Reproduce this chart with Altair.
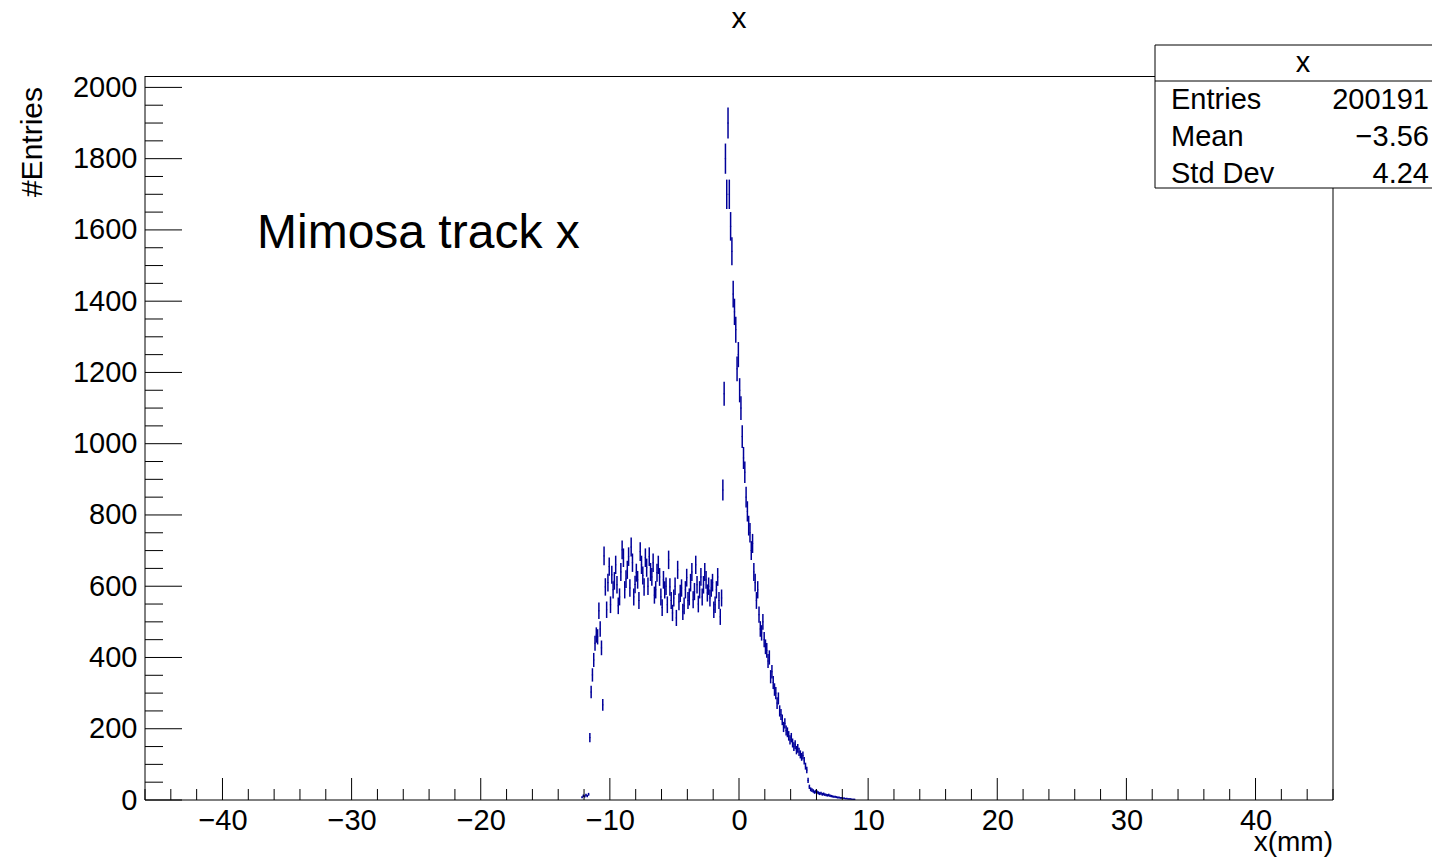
import altair as alt
import pandas as pd

# ---------------- data ----------------
bin_start = -12.2   # low edge of first filled bin (mm)
bin_width = 0.1     # mm

counts = [
    8, 12, 10, 14, 11, 16, 175, 303, 351, 393,
    440, 463, 458, 531, 480, 427, 267, 685, 598, 534,
    610, 655, 548, 632, 590, 615, 660, 604, 545, 570,
    640, 702, 680, 590, 620, 646, 683, 595, 710, 666,
    570, 605, 638, 618, 560, 697, 660, 630, 598, 680,
    652, 600, 683, 640, 626, 666, 575, 590, 638, 660,
    626, 570, 540, 618, 590, 600, 548, 674, 598, 560,
    525, 567, 600, 511, 646, 556, 580, 595, 528, 545,
    590, 624, 560, 570, 610, 640, 562, 585, 660, 604,
    550, 590, 626, 570, 604, 640, 618, 581, 600, 567,
    595, 610, 534, 548, 590, 626, 560, 514, 567, 870,
    1140, 1800, 1700, 1900, 1700, 1610, 1540, 1420, 1370, 1320,
    1210, 1250, 1150, 1100, 1020, 960, 920, 850, 810, 770,
    750, 700, 720, 640, 610, 560, 590, 520, 480, 469,
    500, 450, 430, 420, 390, 400, 346, 360, 330, 310,
    300, 272, 285, 250, 240, 225, 205, 215, 195, 190,
    180, 169, 175, 160, 150, 155, 140, 145, 135, 128,
    121, 125, 110, 95, 84, 55, 37, 30, 28, 25,
    22, 24, 22, 20, 18, 19, 16, 17, 15, 14,
    13, 14, 12, 11, 10, 9, 9, 8, 7, 7,
    6, 6, 5, 5, 4, 4, 3, 3, 3, 2,
    2, 2,
]

x_major = [-40, -30, -20, -10, 0, 10, 20, 30, 40]
x_minor = [v for v in range(-46, 47, 2) if v % 10 != 0]
y_major = [0, 200, 400, 600, 800, 1000, 1200, 1400, 1600, 1800, 2000]
y_minor = [v for v in range(50, 2032, 50) if v % 200 != 0]

stat_names = ["Entries", "Mean", "Std Dev"]
stat_values = ["200191", "\u22123.56", "4.24"]

# ---------------- layout ----------------
W, H = 1188, 724
FONT = "Liberation Sans"
BLUE = "#000099"

centers = [round(bin_start + bin_width * (i + 0.5), 4) for i in range(len(counts))]
df = pd.DataFrame({"x": centers, "n": counts})

xscale = alt.Scale(domain=[-46, 46], nice=False, zero=False)
yscale = alt.Scale(domain=[0, 2032], nice=False, zero=False)
xaxis = alt.Axis(values=x_major, format="d", labelFontSize=29, labelFont=FONT,
                 labelColor="black", ticks=False, domain=False, grid=False,
                 labelPadding=6, title=None, labelFlush=False)
yaxis = alt.Axis(values=y_major, format="d", labelFontSize=29, labelFont=FONT,
                 labelColor="black", ticks=False, domain=False, grid=False,
                 labelPadding=8, title=None)

base = alt.Chart(df).transform_calculate(
    lo="datum.n - sqrt(datum.n)",
    hi="datum.n + sqrt(datum.n)",
    xl="datum.x - 0.05",
    xh="datum.x + 0.05",
)
vbars = base.mark_rule(color=BLUE, strokeWidth=1.5).encode(
    x=alt.X("x:Q", scale=xscale, axis=xaxis),
    y=alt.Y("lo:Q", scale=yscale, axis=yaxis),
    y2="hi:Q",
)
hbars = base.mark_rule(color=BLUE, strokeWidth=1).encode(
    x=alt.X("xl:Q", scale=xscale, axis=xaxis),
    x2="xh:Q",
    y=alt.Y("n:Q", scale=yscale, axis=yaxis),
)

def xticks(vals, length):
    return alt.Chart(pd.DataFrame({"x": vals})).mark_rule(color="black", strokeWidth=1).encode(
        x=alt.X("x:Q", scale=xscale, axis=xaxis),
        y=alt.value(H), y2=alt.value(H - length),
    )

def yticks(vals, length):
    return alt.Chart(pd.DataFrame({"y": vals})).mark_rule(color="black", strokeWidth=1).encode(
        y=alt.Y("y:Q", scale=yscale, axis=yaxis),
        x=alt.value(0), x2=alt.value(length),
    )

one = pd.DataFrame({"a": [0]})

def hline(x1, x2, y):
    return alt.Chart(one).mark_rule(color="black", strokeWidth=1).encode(
        x=alt.value(x1), x2=alt.value(x2), y=alt.value(y))

def vline(x, y1, y2):
    return alt.Chart(one).mark_rule(color="black", strokeWidth=1).encode(
        x=alt.value(x), y=alt.value(y1), y2=alt.value(y2))

def text(t, x, y, size, align="left", baseline="alphabetic", angle=0):
    return alt.Chart(one).mark_text(text=t, font=FONT, fontSize=size, color="black",
                                    align=align, baseline=baseline, angle=angle).encode(
        x=alt.value(x), y=alt.value(y))

frame = [hline(0, W, 0.5), hline(0, W, H), vline(0, 0, H), vline(W, 0, H)]

box = alt.Chart(one).mark_rect(fill="white", stroke="black", strokeWidth=1).encode(
    x=alt.value(1010), x2=alt.value(1310), y=alt.value(-31), y2=alt.value(112))

stats = [
    text("x", 1158, -4, 29, align="center"),
    hline(1010, 1310, 5),
]
for i, (nm, val) in enumerate(zip(stat_names, stat_values)):
    yb = 33 + 37 * i
    stats.append(text(nm, 1026, yb, 29))
    stats.append(text(val, 1284, yb, 29, align="right"))

titles = [
    text("x", 594, -48, 30, align="center"),
    text("Mimosa track x", 112, 172, 48),
    text("#Entries", -103, 11, 30, align="right", angle=270),
    text("x(mm)", W, 775, 28, align="right"),
]

chart = alt.layer(
    vbars, hbars,
    xticks(x_major, 22), xticks(x_minor, 11),
    yticks(y_major, 37), yticks(y_minor, 18),
    *frame, box, *stats, *titles,
).properties(
    width=W, height=H,
    padding={"left": 137, "top": 68, "right": 99, "bottom": 57},
    autosize=alt.AutoSizeParams(type="none"),
    background="white",
).configure_view(stroke=None)

chart.save("out.html", embed_options={"renderer": "svg", "actions": False})
